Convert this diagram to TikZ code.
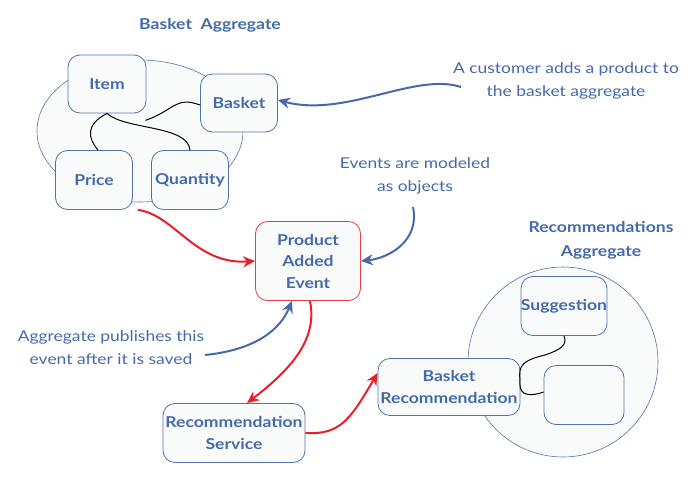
\documentclass[tikz,border=0pt]{standalone}
\usepackage{fontspec}
\setmainfont{Lato}[FakeStretch=1.17]
\usetikzlibrary{arrows.meta,shapes.geometric}
\definecolor{tblue}{RGB}{68,106,170}
\definecolor{bblue}{RGB}{80,115,175}
\definecolor{bgfill}{RGB}{249,251,251}
\definecolor{ared}{RGB}{232,30,40}
\definecolor{pred}{RGB}{235,60,70}
\tikzset{
  box/.style={draw=bblue, line width=0.8pt, rounded corners=12pt, fill=bgfill, align=center,
    text=tblue, font=\fontsize{15}{21.5}\selectfont\bfseries, inner sep=0pt},
  note/.style={text=tblue, align=center, font=\fontsize{14.9}{23}\selectfont, inner sep=0pt},
  title/.style={text=tblue, align=center, font=\fontsize{15}{24}\selectfont\bfseries, inner sep=0pt},
  link/.style={draw=black, line width=1pt},
  barrow/.style={draw=tblue, line width=2pt, -{Stealth[length=12pt,width=11pt]}},
  rarrow/.style={draw=ared, line width=2pt, -{Stealth[length=12pt,width=11pt]}},
}
\begin{document}
\begin{tikzpicture}[x=1pt,y=-1pt]
\useasboundingbox (0,0) rectangle (696,482);
% background shapes
\node[ellipse, draw=bblue, line width=0.6pt, fill=bgfill, minimum width=206pt, minimum height=142pt] (bagg) at (140,131) {};
\node[circle, draw=bblue, line width=0.6pt, fill=bgfill, minimum size=190pt] (ragg) at (563,362) {};
% titles
\node[title] (t1) at (210,25) {Basket\ \ Aggregate};
\node[title] (t2) at (601,240) {Recommendations\\Aggregate};
% boxes
\node[box, minimum width=78pt, minimum height=58pt] (item) at (107,84) {Item};
\node[box, minimum width=77pt, minimum height=58pt] (basket) at (239,103) {Basket};
\node[box, minimum width=77pt, minimum height=59pt] (price) at (94,180) {Price};
\node[box, minimum width=77pt, minimum height=59pt] (qty) at (190,180) {Quantity};
\node[box, draw=pred, minimum width=105pt, minimum height=79pt] (pae) at (308,261) {Product\\Added\\Event};
\node[box, minimum width=142pt, minimum height=59pt] (rs) at (234,433) {Recommendation\\Service};
\node[box, minimum width=142pt, minimum height=57pt] (br) at (449,387) {Basket\\Recommendation};
\node[box, minimum width=80pt, minimum height=59pt] (sug) at (564,306) {Suggestion};
\node[box, minimum width=80pt, minimum height=59pt] (emp) at (584,395) {};
% notes
\node[note] (n1) at (566,81) {A customer adds a product to\\the basket aggregate};
\node[note] (n2) at (415,176) {Events are modeled\\as objects};
\node[note] (n3) at (111,348) {Aggregate publishes this\\event after it is saved};
% internal links
\draw[link] ([xshift=-1pt,yshift=-7pt]item.south east) .. controls (175,110) and (175,96) .. ([yshift=-2pt]basket.west);
\draw[link] (item.south) .. controls (85,125) and (88,138) .. ([xshift=4pt]price.north);
\draw[link] (item.south) .. controls (125,130) and (188,125) .. (qty.north);
\draw[link] (sug.south) .. controls (568,345) and (560,350) .. (545,355) .. controls (515,362) and (520,370) .. (520,385) .. controls (520,395) and (530,397) .. ([yshift=3pt]emp.west);
% arrows
\coordinate (a1s) at (461,87);
\draw[barrow] (a1s) .. controls (415,72) and (345,118) .. ([yshift=3pt]basket.east);
\coordinate (a2s) at (413,207);
\draw[barrow] (a2s) .. controls (420,240) and (390,258) .. (pae.east);
\coordinate (a3s) at (205,355);
\draw[barrow] (a3s) .. controls (255,350) and (280,330) .. ([xshift=-16pt]pae.south);
\draw[rarrow] ([xshift=44pt]price.south) .. controls (175,215) and (195,265) .. (pae.west);
\draw[rarrow] ([xshift=2pt]pae.south) .. controls (318,340) and (290,370) .. ([xshift=13pt]rs.north);
\draw[rarrow] (rs.east) .. controls (340,435) and (350,420) .. ([yshift=14pt]br.west);
\end{tikzpicture}
\end{document}
